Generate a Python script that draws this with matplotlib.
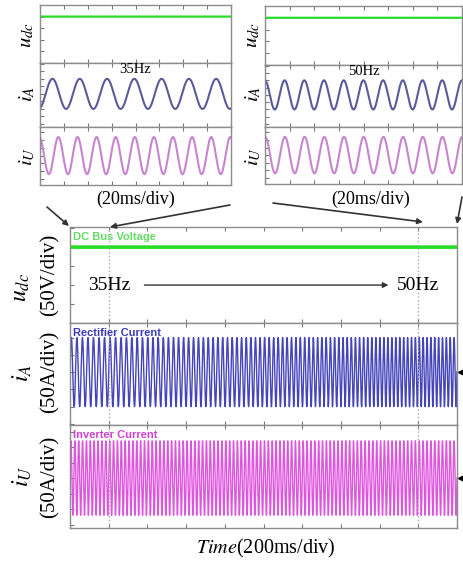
import matplotlib.pyplot as plt
import numpy as np

plt.rcParams['mathtext.fontset'] = 'stix'
plt.rcParams['font.family'] = ['Liberation Serif', 'DejaVu Serif']

W, H = 463, 568

# --- readings from the scope screenshots ---
# zoomed windows (20 ms/div, 0.2 s shown)
zoom_span = 0.2
zoom_freq_a = [35, 50]          # rectifier current frequency, left / right window
zoom_freq_u = [50, 50]          # inverter current frequency
zoom_phase_a = [-1.3, 1.6]
zoom_phase_u = [1.8, 1.5]
zoom_labels = ['35Hz', '50Hz']

# full record (200 ms/div, 2 s shown)
full_span = 2.0
ramp_t = [0.2, 1.8]             # dotted markers: start / end of frequency change
ramp_f = [35, 50]
inv_freq = 50
udc_level = 200                 # V
ia_amp = 100                    # A
iu_amp = 120                    # A

WAVE_A = '#5b5b9c'
WAVE_U = '#c785cf'
FULL_A = '#4444bb'
FULL_U = '#e055e0'
GREEN = '#27dd27'
FRAME = '#8c8c8c'


def px_axes(fig, x0, y0, x1, y1):
    return fig.add_axes([x0 / W, 1 - y1 / H, (x1 - x0) / W, (y1 - y0) / H])


def fig_xy(x, y):
    return x / W, 1 - y / H


def style(ax, xmax, xstep, ylim, ystep):
    ax.set_xlim(0, xmax)
    ax.set_ylim(*ylim)
    ax.set_xticks(np.arange(0, xmax + 1e-9, xstep))
    ax.set_yticks(np.arange(np.ceil(ylim[0] / ystep) * ystep, ylim[1], ystep))
    ax.tick_params(direction='in', length=3, width=0.8, color='#777777',
                   top=True, right=False, labelleft=False, labelbottom=False)
    for s in ax.spines.values():
        s.set_color(FRAME)
        s.set_linewidth(1.0)


fig = plt.figure(figsize=(W / 100, H / 100), dpi=100)

# ---------------- zoomed windows ----------------
boxes = [(40, 231, [(5, 63), (63, 127), (127, 185)]),
         (265, 462, [(6, 65), (65, 127), (127, 184)])]
label_x = [27, 253]
t = np.linspace(0, zoom_span, 3000)
for k, (x0, x1, rows) in enumerate(boxes):
    ax = px_axes(fig, x0, rows[0][0], x1, rows[0][1])
    ax.plot(t, np.full_like(t, udc_level), color=GREEN, lw=1.6)
    style(ax, zoom_span, 0.025, (0, 250), 50)

    ax = px_axes(fig, x0, rows[1][0], x1, rows[1][1])
    ax.plot(t, ia_amp * np.sin(2 * np.pi * zoom_freq_a[k] * t + zoom_phase_a[k]),
            color=WAVE_A, lw=1.5)
    style(ax, zoom_span, 0.025, (-220, 205), 50)
    ax.text(0.5, 0.9, zoom_labels[k], transform=ax.transAxes, ha='center',
            va='center', fontsize=10.5)

    ax = px_axes(fig, x0, rows[2][0], x1, rows[2][1])
    ax.plot(t, iu_amp * np.sin(2 * np.pi * zoom_freq_u[k] * t + zoom_phase_u[k]),
            color=WAVE_U, lw=1.5)
    style(ax, zoom_span, 0.025, (-190, 185), 50)

    for lab, yc in zip([r'$u_{dc}$', r'$i_A$', r'$i_U$'], [35, 94, 157]):
        fig.text(*fig_xy(label_x[k], yc), lab, rotation=90, ha='center',
                 va='center', fontsize=15)
    fig.text(*fig_xy((x0 + x1) / 2 if k == 0 else 371, 199), '(20ms/div)',
             ha='center', va='center', fontsize=13)

# ---------------- full record ----------------
tf = np.linspace(0, full_span, 40000)
f_inst = np.interp(tf, ramp_t, ramp_f)
phase_a = 2 * np.pi * np.cumsum(f_inst) * (tf[1] - tf[0])

ax1 = px_axes(fig, 70, 227, 457, 323)
ax1.plot(tf, np.full_like(tf, udc_level), color=GREEN, lw=2.6)
style(ax1, full_span, 0.2, (0, 253), 50)
ax1.text(0.008, 0.9, 'DC Bus Voltage', transform=ax1.transAxes, color='#66dd66',
         fontsize=8, fontweight='bold', family='Liberation Sans', va='center')

ax2 = px_axes(fig, 70, 323, 457, 425)
ax2.plot(tf, ia_amp * np.sin(phase_a), color=FULL_A, lw=1.0)
style(ax2, full_span, 0.2, (-153, 142), 50)
ax2.text(0.008, 0.9, 'Rectifier Current', transform=ax2.transAxes, color='#3a3ab8',
         fontsize=8, fontweight='bold', family='Liberation Sans', va='center')

ax3 = px_axes(fig, 70, 425, 457, 528)
ax3.plot(tf, iu_amp * np.sin(2 * np.pi * inv_freq * tf), color=FULL_U, lw=1.0)
style(ax3, full_span, 0.2, (-161, 171), 50)
ax3.text(0.008, 0.9, 'Inverter Current', transform=ax3.transAxes, color='#d040d0',
         fontsize=8, fontweight='bold', family='Liberation Sans', va='center')

for ax in (ax1, ax2, ax3):
    for tm in ramp_t:
        ax.axvline(tm, color='#aaaaaa', ls=':', lw=1)

for ax in (ax2, ax3):
    ax.plot([1.01], [0], marker='<', color='black', ms=5,
            transform=ax.get_yaxis_transform(), clip_on=False)

ax1.text(ramp_t[0], 100, '35Hz', ha='center', va='center', fontsize=14)
ax1.text(ramp_t[1], 100, '50Hz', ha='center', va='center', fontsize=14)
ax1.annotate('', xy=(1.66, 100), xytext=(0.37, 100),
             arrowprops=dict(arrowstyle='-|>', color='#333333', lw=1, mutation_scale=8))

# axis titles, left side
for lab, unit, yc, yu in [(r'$u_{dc}$', '(50V/div)', 287, 275),
                          (r'$i_A$', '(50A/div)', 373, 372),
                          (r'$i_U$', '(50A/div)', 476, 477)]:
    fig.text(*fig_xy(22, yc), lab, rotation=90, ha='center', va='center', fontsize=17)
    fig.text(*fig_xy(50, yu), unit, rotation=90, ha='center', va='center', fontsize=15)

fig.text(*fig_xy(266, 548), r'$\mathit{Time}$(200ms/div)', ha='center', va='center',
         fontsize=14.5)

# pointers from the zoomed windows to the full record
for start, end in [((47, 207), (69, 226)), ((230, 205), (110, 227)),
                   ((273, 203), (423, 222)), ((462, 197), (457, 224))]:
    ax1.annotate('', xy=fig_xy(*end), xycoords='figure fraction',
                 xytext=fig_xy(*start), textcoords='figure fraction',
                 arrowprops=dict(arrowstyle='-|>', color='#333333', lw=1.2,
                                 mutation_scale=8, shrinkA=0, shrinkB=0),
                 annotation_clip=False)

fig.savefig('out.png', dpi=100)
